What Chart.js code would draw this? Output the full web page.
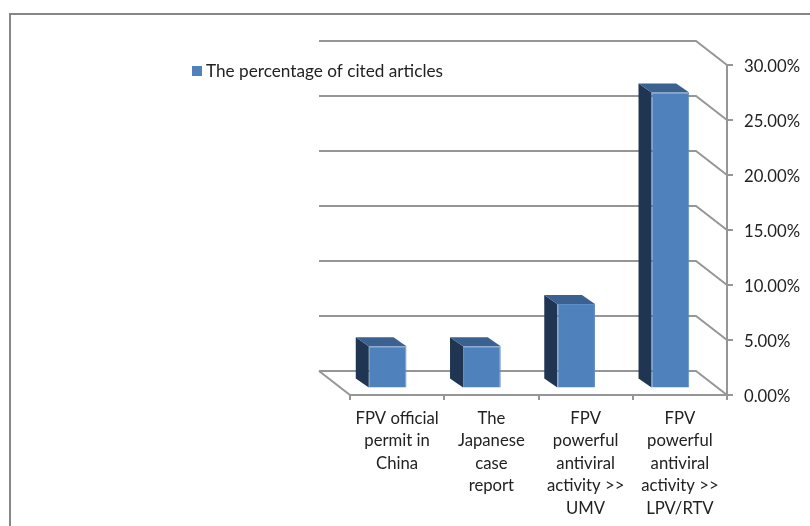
<!DOCTYPE html>
<html>
<head>
<meta charset="utf-8">
<title>Cited articles</title>
<script src="https://cdn.jsdelivr.net/npm/chart.js@4/dist/chart.umd.min.js"></script>
<style>
    html, body { margin: 0; padding: 0; background: #fff; overflow: hidden; }
    #wrap { position: relative; width: 810px; height: 526px; }
    #frame { position: absolute; left: 9px; top: 13px; right: 0; bottom: 0; border-left: 2px solid #868686; border-top: 2px solid #868686; }
    #chart { position: absolute; left: 0; top: 0; }
</style>
</head>
<body>
<div id="wrap">
    <div id="frame"></div>
    <canvas id="chart" width="810" height="526"></canvas>
</div>
<script>
const categories = [
    ['FPV official', 'permit in', 'China'],
    ['The', 'Japanese', 'case', 'report'],
    ['FPV', 'powerful', 'antiviral', 'activity >>', 'UMV'],
    ['FPV', 'powerful', 'antiviral', 'activity >>', 'LPV/RTV']
];
const citedValues = [3.85, 3.85, 7.69, 26.92];
const seriesName = 'The percentage of cited articles';

const axisColor = '#969696';
const textColor = '#222222';
const labelFont = { family: 'Lato, "Open Sans", sans-serif', size: 16.7, lineHeight: 1.35 };
const legendFontSize = 17.2;

// depth of the box the bars stand in, and where the bars sit inside it
const wallShift = { x: -31, y: -24 };
const barShift = { x: -9.5, y: -6.5 };
const barDepth = { x: -13, y: -9 };

function poly(ctx, color, pts) {
    ctx.fillStyle = color;
    ctx.beginPath();
    pts.forEach((p, i) => i ? ctx.lineTo(p[0], p[1]) : ctx.moveTo(p[0], p[1]));
    ctx.closePath();
    ctx.fill();
}

// back wall lines, their diagonals to the axis and the left floor edge
const wallPlugin = {
    id: 'wall',
    beforeDatasetsDraw(chart) {
        const { ctx, chartArea, scales } = chart;
        ctx.save();
        ctx.strokeStyle = axisColor;
        ctx.lineWidth = 2;
        scales.y.ticks.forEach(tick => {
            const y = scales.y.getPixelForValue(tick.value);
            ctx.beginPath();
            ctx.moveTo(chartArea.left + wallShift.x, y + wallShift.y);
            ctx.lineTo(chartArea.right + wallShift.x, y + wallShift.y);
            ctx.lineTo(chartArea.right, y);
            ctx.stroke();
        });
        const floorY = scales.y.getPixelForValue(0);
        ctx.beginPath();
        ctx.moveTo(chartArea.left + wallShift.x, floorY + wallShift.y);
        ctx.lineTo(chartArea.left, floorY);
        ctx.stroke();
        ctx.restore();
    }
};

// side and top faces of each bar; the front face is the library's own bar, moved into the box
const depthPlugin = {
    id: 'depth',
    beforeDatasetDraw(chart, args) {
        const { ctx } = chart;
        ctx.save();
        ctx.translate(barShift.x, barShift.y);
        args.meta.data.forEach(bar => {
            const left = bar.x - bar.width / 2;
            const right = bar.x + bar.width / 2;
            const dx = barDepth.x, dy = barDepth.y;
            poly(ctx, '#1f3552', [[left, bar.y], [left + dx, bar.y + dy], [left + dx, bar.base + dy], [left, bar.base]]);
            poly(ctx, '#3a618f', [[left, bar.y], [left + dx, bar.y + dy], [right + dx, bar.y + dy], [right, bar.y]]);
        });
    },
    afterDatasetDraw(chart) {
        chart.ctx.restore();
    }
};

// Lato sits high on a middle baseline, nudge the value labels down level with their ticks
const tickNudgePlugin = {
    id: 'tickNudge',
    afterLayout(chart) {
        chart.scales.y.getLabelItems().forEach(item => {
            item.options.translation[1] += 1.5;
        });
    }
};

const legendPlugin = {
    id: 'cornerLegend',
    afterDraw(chart) {
        const { ctx } = chart;
        ctx.save();
        ctx.fillStyle = '#4f81bd';
        ctx.fillRect(192, 66, 10, 10);
        ctx.fillStyle = textColor;
        ctx.font = `${legendFontSize}px ${labelFont.family}`;
        ctx.textBaseline = 'middle';
        ctx.fillText(chart.data.datasets[0].label, 206, 71);
        ctx.restore();
    }
};

new Chart(document.getElementById('chart'), {
    type: 'bar',
    data: {
        labels: categories,
        datasets: [{
            label: seriesName,
            data: citedValues,
            backgroundColor: '#4f81bd',
            borderColor: '#5f8dc6',
            borderWidth: 1,
            barPercentage: 0.4,
            categoryPercentage: 1
        }]
    },
    options: {
        responsive: false,
        animation: false,
        layout: { padding: { left: 350, top: 65, right: 0, bottom: 0 } },
        plugins: { legend: { display: false }, tooltip: { enabled: false } },
        scales: {
            x: {
                grid: { drawOnChartArea: false, color: axisColor, lineWidth: 2, tickLength: 5 },
                border: { color: axisColor, width: 2 },
                ticks: { color: textColor, font: labelFont, padding: 7, maxRotation: 0, autoSkip: false },
                afterFit(scale) { scale.height = 131; }
            },
            y: {
                position: 'right',
                min: 0,
                max: 30,
                grid: { drawOnChartArea: false, color: axisColor, lineWidth: 2, tickLength: 6 },
                border: { color: axisColor, width: 2 },
                ticks: {
                    stepSize: 5,
                    color: textColor,
                    font: labelFont,
                    padding: 11,
                    callback: value => value.toFixed(2) + '%'
                },
                afterFit(scale) { scale.width = 83; }
            }
        }
    },
    plugins: [wallPlugin, depthPlugin, tickNudgePlugin, legendPlugin]
});
</script>
</body>
</html>
